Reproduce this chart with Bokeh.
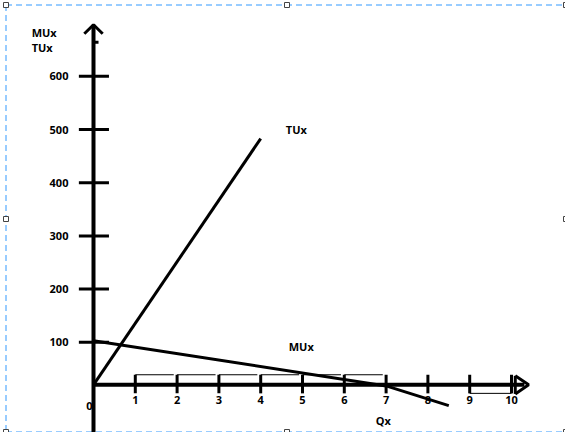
from bokeh.plotting import figure
from bokeh.models import Range1d
from bokeh.core.properties import value
from bokeh.embed import file_html
from bokeh.resources import INLINE

# ---- data ----
q_ticks = [1, 2, 3, 4, 5, 6, 7, 8, 9, 10]
q_labels = ["1", "2", "3", "4", "5", "6", "7", "8", "9", "10"]
u_ticks = [100, 200, 300, 400, 500, 600]
u_labels = ["100", "200", "300", "400", "500", "600"]
tu_q = [0, 4]
tu_u = [20, 483]
mu_q = [0, 7, 8.5]
mu_u = [103, 18, -19]

# ---- layout constants ----
W, H = 565, 432
PX0, PXU = 93.0, 41.8     # screen x of Q=0, px per unit
PY0, PYU = 395.0, 0.532   # screen y of U=0, px per unit
BASE = 20
TOP = 697
XEND = 10.41
FONT = value("Open Sans")


def dx(px):
    return (px - PX0) / PXU


def dy(py):
    return (PY0 - py) / PYU


p = figure(width=W, height=H, output_backend="svg", toolbar_location=None,
           x_range=Range1d(dx(0), dx(W)), y_range=Range1d(dy(H), dy(0)), min_border=0)
p.axis.visible = False
p.grid.visible = False
p.outline_line_color = None
p.background_fill_color = "white"
p.border_fill_color = "white"

# selection frame (dashed) and handles
sel = dict(line_color="#3399ff", line_width=1, line_dash="6 4")
p.line([dx(5.5), dx(565)], [dy(4.5), dy(4.5)], **sel)
p.line([dx(5.5), dx(5.5)], [dy(4.5), dy(432)], **sel)
p.line([dx(5.5), dx(565)], [dy(431.5), dy(431.5)], **sel)
p.scatter(x=[dx(5.5), dx(286.5), dx(5.5), dx(5.5), dx(286.5), dx(565.5), dx(565.5), dx(565.5)],
          y=[dy(4.5), dy(4.5), dy(218.5), dy(431.5), dy(431.5), dy(4.5), dy(218.5), dy(431.5)],
          marker="square", size=5, fill_color="white", line_color="#444444", line_width=1)

# vertical axis + arrow
p.line([0, 0], [-100, TOP], line_color="black", line_width=4)
p.line([-0.22, 0, 0.22], [TOP - 17, TOP, TOP - 17], line_color="black", line_width=3)
p.line([0, 0.12], [664, 664], line_color="black", line_width=3)

# horizontal axis + arrow
p.line([0, XEND - 0.1], [BASE, BASE], line_color="black", line_width=4)
p.line([XEND - 0.32, XEND, XEND - 0.32], [BASE + 17, BASE, BASE - 17],
       line_color="black", line_width=3)
p.line([10.09, 10.09], [BASE + 17, BASE - 17], line_color="black", line_width=3)

# y ticks
p.segment(x0=[-0.35] * len(u_ticks), x1=[0.37] * len(u_ticks), y0=u_ticks, y1=u_ticks,
          line_color="black", line_width=3)
p.text(x=[-0.6] * len(u_ticks), y=u_ticks, text=u_labels, text_font=FONT,
       text_font_style="bold", text_font_size="11px", text_align="right",
       text_baseline="middle", text_color="black")

# x ticks
p.segment(x0=q_ticks, x1=q_ticks, y0=[BASE + 19] * len(q_ticks), y1=[BASE - 16] * len(q_ticks),
          line_color="black", line_width=3)
p.segment(x0=q_ticks[:6], x1=[q + 0.92 for q in q_ticks[:6]],
          y0=[BASE + 19] * 6, y1=[BASE + 19] * 6, line_color="black", line_width=1)
p.segment(x0=[9], x1=[10], y0=[BASE - 16], y1=[BASE - 16], line_color="black", line_width=1)
p.text(x=q_ticks, y=[BASE - 20] * len(q_ticks), text=q_labels, text_font=FONT,
       text_font_style="bold", text_font_size="11px", text_align="center",
       text_baseline="top", text_color="black")
p.text(x=[-0.1], y=[BASE - 32], text=["0"], text_font=FONT, text_font_style="bold",
       text_font_size="11px", text_align="center", text_baseline="top", text_color="black")

# curves
p.line(tu_q, tu_u, line_color="black", line_width=3)
p.line(mu_q, mu_u, line_color="black", line_width=3)

# labels
lab = dict(text_font=FONT, text_font_style="bold", text_font_size="11px",
           text_baseline="middle", text_color="black")
p.text(x=[-1.48, -1.48], y=[682, 654], text=["MUx", "TUx"], text_align="left", **lab)
p.text(x=[4.6], y=[500], text=["TUx"], text_align="left", **lab)
p.text(x=[4.67], y=[92], text=["MUx"], text_align="left", **lab)
p.text(x=[6.75], y=[-47], text=["Qx"], text_align="left", **lab)

open("out.html", "w").write(file_html(p, INLINE))
